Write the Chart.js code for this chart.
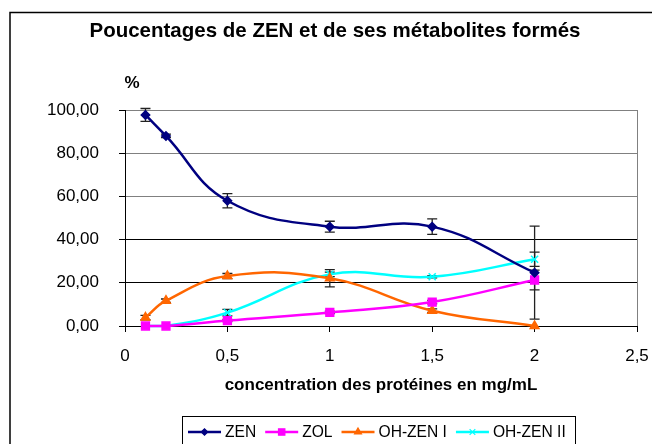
<!DOCTYPE html>
<html>
<head>
<meta charset="utf-8">
<script src="https://cdn.jsdelivr.net/npm/chart.js@4"></script>
<style>
  html, body { margin: 0; padding: 0; background: #fff; }
  #wrap { width: 652px; height: 444px; }
</style>
</head>
<body>
<div id="wrap"><canvas id="myChart" width="652" height="444"></canvas></div>
<script>
// concentrations en protéines (mg/mL)
const concentrations = [0.1, 0.2, 0.5, 1, 1.5, 2];

// pourcentages mesurés et écarts-types
const zen = [97.7, 88.0, 58.0, 46.0, 46.0, 24.7];
const zenErr = [3.0, 0.8, 3.3, 2.5, 3.6, 21.5];
const zol = [0, 0, 2.5, 6.3, 11.1, 21.3];
const zolErr = [0, 0, 0.5, 0.6, 0.8, 4.6];
const ohZen1 = [3.9, 11.7, 23.1, 22.1, 7.1, 0];
const ohZen1Err = [1.0, 0.8, 1.2, 4.0, 0.8, 0];
const ohZen2 = [0, 0, 6.2, 23.9, 22.8, 30.9];
const ohZen2Err = [0, 0, 1.5, 1.0, 0.5, 3.3];

const seriesNames = ['ZEN', 'ZOL', 'OH-ZEN I', 'OH-ZEN II'];
const xTickLabels = ['0', '0,5', '1', '1,5', '2', '2,5'];
const yTickLabels = ['0,00', '20,00', '40,00', '60,00', '80,00', '100,00'];

const FONT = "'Liberation Sans', Arial, sans-serif";

function points(values) {
  return concentrations.map((c, i) => ({ x: c, y: values[i] }));
}

function serie(label, values, errors, color, style, radius) {
  return {
    label: label,
    data: points(values),
    errors: errors,
    borderColor: color,
    backgroundColor: color,
    borderWidth: 2.5,
    pointStyle: style,
    pointRadius: radius,
    pointBorderWidth: 1.5,
    pointBackgroundColor: color,
    pointBorderColor: color,
    tension: 0.42,
    clip: false
  };
}

// barres d'erreur verticales, tracées sous les courbes
const errorBars = {
  id: 'errorBars',
  beforeDatasetsDraw(chart) {
    const ctx = chart.ctx;
    const xs = chart.scales.x, ys = chart.scales.y;
    ctx.save();
    ctx.strokeStyle = '#222';
    ctx.lineWidth = 1.3;
    chart.data.datasets.forEach(ds => {
      ds.data.forEach((p, i) => {
        const e = ds.errors[i];
        if (!e) return;
        const x = xs.getPixelForValue(p.x);
        const y1 = ys.getPixelForValue(p.y + e);
        const y2 = ys.getPixelForValue(p.y - e);
        ctx.beginPath();
        ctx.moveTo(x, y1); ctx.lineTo(x, y2);
        ctx.moveTo(x - 5, y1); ctx.lineTo(x + 5, y1);
        ctx.moveTo(x - 5, y2); ctx.lineTo(x + 5, y2);
        ctx.stroke();
      });
    });
    ctx.restore();
  }
};

// cadre, titre, unité, bord du tracé et légende encadrée
const decor = {
  id: 'decor',
  beforeDraw(chart) {
    const ctx = chart.ctx;
    ctx.save();
    ctx.fillStyle = '#fff';
    ctx.fillRect(0, 0, chart.width, chart.height);
    ctx.strokeStyle = '#000';
    ctx.lineWidth = 1.5;
    ctx.strokeRect(10, 12.5, 800, 600);
    ctx.restore();
  },
  afterDraw(chart) {
    const ctx = chart.ctx;
    const area = chart.chartArea;
    ctx.save();
    ctx.fillStyle = '#000';
    ctx.textAlign = 'center';
    ctx.textBaseline = 'middle';
    ctx.font = 'bold 20.5px ' + FONT;
    ctx.fillText('Poucentages de ZEN et de ses métabolites formés', 335, 31);
    ctx.font = 'bold 17px ' + FONT;
    ctx.fillText('%', 132, 83);

    ctx.strokeStyle = '#808080';
    ctx.lineWidth = 1;
    ctx.beginPath();
    ctx.moveTo(Math.round(area.right) + 0.5, area.top);
    ctx.lineTo(Math.round(area.right) + 0.5, area.bottom);
    ctx.stroke();

    // légende
    const top = 416.5, left = 182.5, right = 575.5, cy = 432;
    ctx.strokeStyle = '#000';
    ctx.strokeRect(left, top, right - left, 40);
    ctx.font = '15.6px ' + FONT;
    ctx.textAlign = 'left';
    let x = 188;
    chart.data.datasets.forEach(ds => {
      ctx.strokeStyle = ds.borderColor;
      ctx.lineWidth = 2.5;
      ctx.beginPath();
      ctx.moveTo(x, cy); ctx.lineTo(x + 33, cy);
      ctx.stroke();
      ctx.fillStyle = ds.borderColor;
      ctx.lineWidth = 1.2;
      Chart.helpers.drawPoint(ctx, {
        pointStyle: ds.pointStyle, radius: ds.pointRadius - 1, borderWidth: 1.2
      }, x + 16.5, cy);
      ctx.fillStyle = '#000';
      ctx.fillText(ds.label, x + 37, cy + 1);
      x += 37 + ctx.measureText(ds.label).width + 9;
    });
    ctx.restore();
  }
};

new Chart(document.getElementById('myChart'), {
  type: 'line',
  data: {
    datasets: [
      serie(seriesNames[0], zen, zenErr, '#000080', 'rectRot', 4.2),
      serie(seriesNames[1], zol, zolErr, '#FF00FF', 'rect', 5.5),
      serie(seriesNames[2], ohZen1, ohZen1Err, '#FF6600', 'triangle', 5),
      serie(seriesNames[3], ohZen2, ohZen2Err, '#00FFFF', 'crossRot', 5)
    ]
  },
  options: {
    responsive: false,
    animation: false,
    layout: { padding: { top: 110, right: 15, left: 0, bottom: 0 } },
    plugins: {
      legend: { display: false },
      title: { display: false },
      tooltip: { enabled: false }
    },
    scales: {
      x: {
        type: 'linear',
        min: 0,
        max: 2.5,
        afterFit(scale) {
          scale.height = 118;
          scale.paddingLeft = 0;
          scale.paddingRight = 0;
        },
        afterBuildTicks(scale) {
          scale.ticks = xTickLabels.map((t, i) => ({ value: i * 0.5 }));
        },
        ticks: {
          color: '#000',
          font: { family: FONT, size: 17 },
          padding: 14,
          maxRotation: 0,
          callback: (v, i) => xTickLabels[i]
        },
        grid: { drawOnChartArea: false, tickLength: 6, tickColor: '#000' },
        border: { color: '#000', width: 1 },
        title: {
          display: true,
          text: 'concentration des protéines en mg/mL',
          color: '#000',
          font: { family: FONT, size: 17, weight: 'bold' },
          padding: { top: 0, bottom: 48 }
        }
      },
      y: {
        min: 0,
        max: 100,
        afterFit(scale) { scale.width = 125; },
        afterBuildTicks(scale) {
          scale.ticks = yTickLabels.map((t, i) => ({ value: i * 20 }));
        },
        ticks: {
          color: '#000',
          font: { family: FONT, size: 17 },
          padding: 20,
          callback: (v, i) => yTickLabels[i]
        },
        grid: {
          color: c => (c.tick && c.tick.value >= 60 ? '#808080' : '#000'),
          tickColor: '#000',
          tickLength: 6
        },
        border: { color: '#000', width: 1 }
      }
    }
  },
  plugins: [errorBars, decor]
});
</script>
</body>
</html>
